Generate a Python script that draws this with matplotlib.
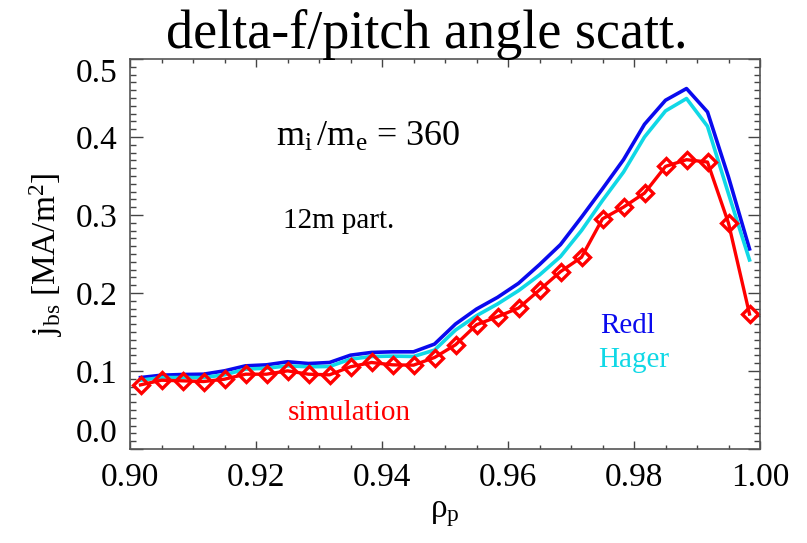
import numpy as np
import matplotlib
matplotlib.use("Agg")
import matplotlib.pyplot as plt

plt.rcParams['font.family'] = ['Liberation Serif', 'DejaVu Serif']
plt.rcParams['mathtext.fontset'] = 'custom'
plt.rcParams['mathtext.rm'] = 'Liberation Serif'
plt.rcParams['mathtext.it'] = 'Liberation Serif:italic'

# radial grid (bin centres in rho_pol)
rho = 0.9 + (np.arange(30) + 0.5) * 0.1 / 30

j_redl = [0.0916, 0.0946, 0.0955, 0.0959, 0.1002, 0.1066, 0.1079, 0.1118, 0.1096, 0.1109,
          0.1203, 0.1238, 0.1246, 0.1246, 0.1345, 0.1602, 0.1794, 0.1944, 0.2124, 0.2364,
          0.2621, 0.2972, 0.3336, 0.3709, 0.4163, 0.4471, 0.4621, 0.4321, 0.3486, 0.2565]

j_hager = [0.0882, 0.0916, 0.0916, 0.0916, 0.0951, 0.1024, 0.1036, 0.1066, 0.1054, 0.1058,
           0.1152, 0.1186, 0.1191, 0.1186, 0.1268, 0.1525, 0.1709, 0.1859, 0.2030, 0.2231,
           0.2467, 0.2801, 0.3186, 0.3550, 0.4000, 0.4334, 0.4493, 0.4137, 0.3272, 0.2424]

j_sim = [0.0822, 0.0882, 0.0874, 0.0865, 0.0895, 0.0959, 0.0959, 0.1002, 0.0959, 0.0951,
         0.1054, 0.1109, 0.1079, 0.1075, 0.1173, 0.1336, 0.1593, 0.1696, 0.1807, 0.2039,
         0.2274, 0.2458, 0.2951, 0.3101, 0.3281, 0.3623, 0.3709, 0.3679, 0.2895, 0.1730]

fig = plt.figure(figsize=(8.07, 5.43), dpi=100)
ax = fig.add_axes([130 / 807, 1 - 449 / 543, 630 / 807, 390 / 543])

ax.plot(rho, j_redl, color='#0a0aee', lw=2.6)
ax.plot(rho, j_hager, color='#10d8e6', lw=2.6)
ax.plot(rho, j_sim, color='#ff0000', lw=2.4, marker='D', ms=8.5,
        mfc='none', mec='#ff0000', mew=2.4)

ax.set_xlim(0.9, 1.0)
ax.set_ylim(0.0, 0.5)
ax.set_xticks(np.arange(0.90, 1.001, 0.02))
ax.set_xticks(np.arange(0.90, 1.001, 0.005), minor=True)
ax.set_yticks(np.arange(0.0, 0.501, 0.1))
ax.set_yticks(np.arange(0.0, 0.501, 0.01), minor=True)
ax.set_xticklabels(['0.90', '0.92', '0.94', '0.96', '0.98', '1.00'])
ax.set_yticklabels(['0.0', '0.1', '0.2', '0.3', '0.4', '0.5'])

ax.tick_params(which='both', direction='in', top=True, right=True, color='#444444',
               labelsize=24, width=1.0)
ax.tick_params(axis='x', which='major', length=6, pad=10)
ax.tick_params(axis='x', which='minor', length=3)
ax.tick_params(axis='y', which='major', length=9, pad=9)
ax.tick_params(axis='y', which='minor', length=4.5)
for s in ax.spines.values():
    s.set_color('#555555')
    s.set_linewidth(1.2)

# keep the end labels inside the frame
ylabs = ax.get_yticklabels()
ylabs[0].set_verticalalignment('bottom')
ylabs[-1].set_verticalalignment('top')

ax.set_xlabel(r'$\mathregular{ρ_p}$', fontsize=24, labelpad=4)
ax.set_ylabel(r'$\mathregular{j_{bs}\ [MA/m^2]}$', fontsize=24, labelpad=8)

fig.text(427 / 807, 1 - 48 / 543, 'delta-f/pitch angle scatt.', fontsize=39,
         ha='center', va='baseline')

ax.text(0.232, 0.777, r'$\mathregular{m_i\,/m_e}$ = 360', fontsize=26,
        transform=ax.transAxes, va='baseline')
ax.text(0.243, 0.567, '12m part.', fontsize=21, transform=ax.transAxes, va='baseline')
ax.text(0.746, 0.297, 'Redl', fontsize=21, color='#0a0aee', transform=ax.transAxes,
        va='baseline')
ax.text(0.743, 0.210, 'Hager', fontsize=21, color='#10d8e6', transform=ax.transAxes,
        va='baseline')
ax.text(0.251, 0.074, 'simulation', fontsize=21, color='#ff0000', transform=ax.transAxes,
        va='baseline')

fig.savefig('out.png', dpi=100)
